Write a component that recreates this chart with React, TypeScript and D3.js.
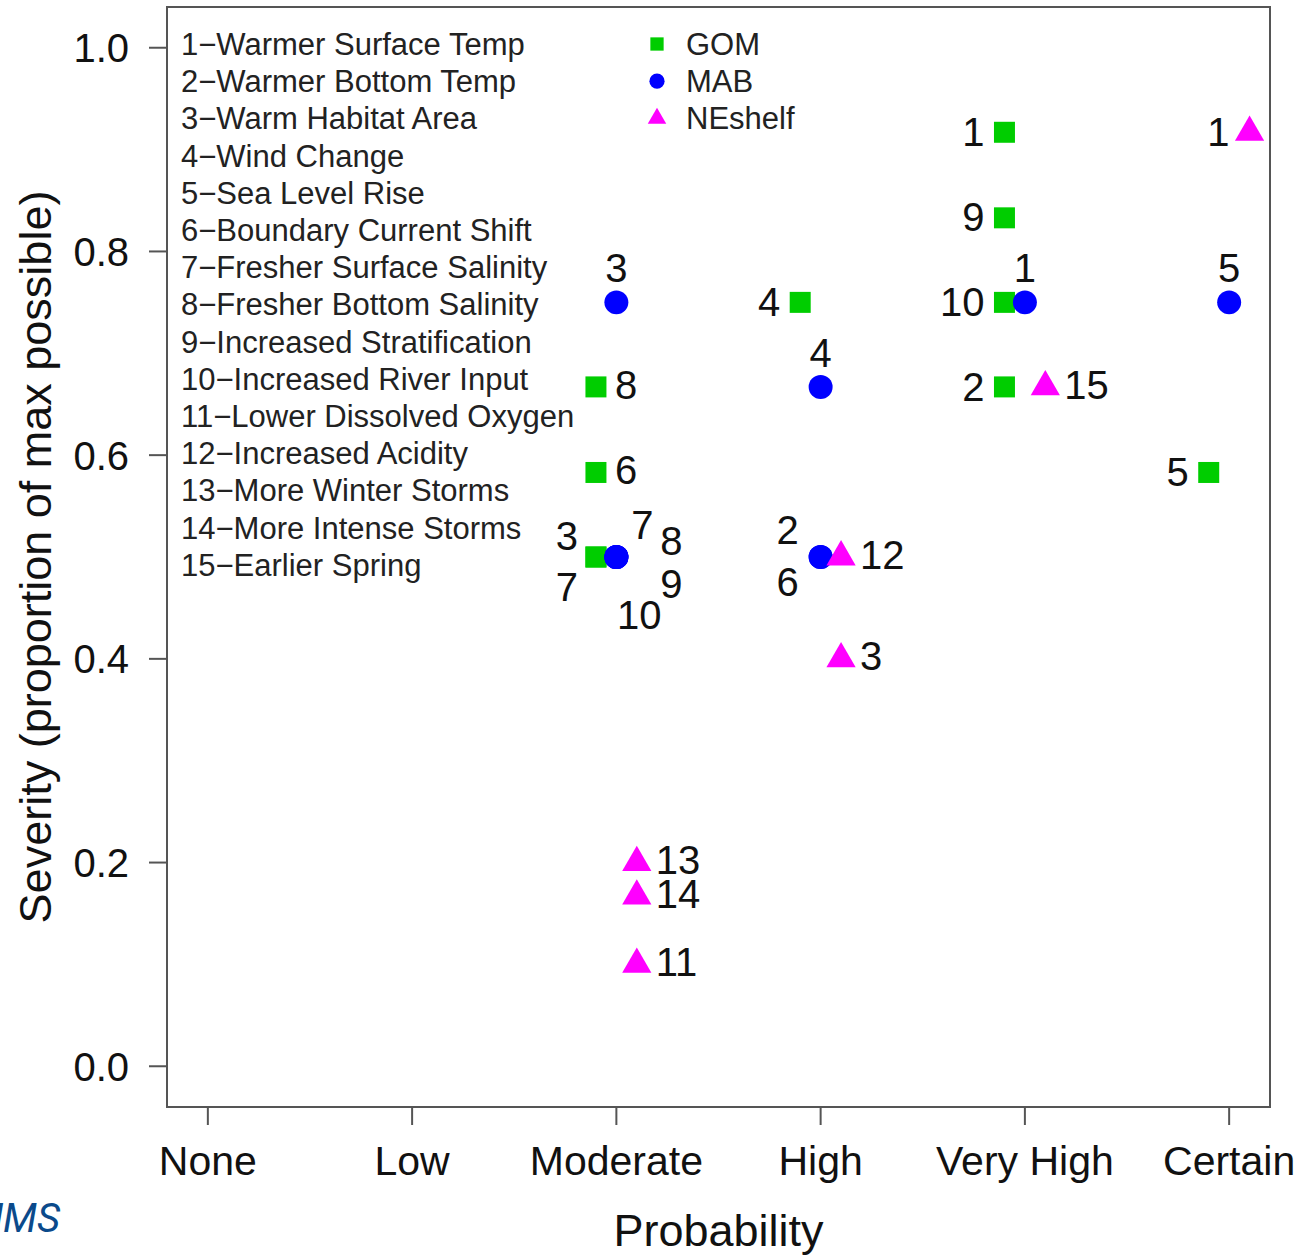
import React from 'react';
import * as d3 from 'd3';

// probability categories on the x axis
const probLevels = ['None', 'Low', 'Moderate', 'High', 'Very High', 'Certain'];
const sevTicks = [0, 0.2, 0.4, 0.6, 0.8, 1.0];

const factorNames = [
  'Warmer Surface Temp', 'Warmer Bottom Temp', 'Warm Habitat Area', 'Wind Change',
  'Sea Level Rise', 'Boundary Current Shift', 'Fresher Surface Salinity',
  'Fresher Bottom Salinity', 'Increased Stratification', 'Increased River Input',
  'Lower Dissolved Oxygen', 'Increased Acidity', 'More Winter Storms',
  'More Intense Storms', 'Earlier Spring',
];

const regionNames = ['GOM', 'MAB', 'NEshelf'];

// GOM
const gomFactor = [1, 9, 10, 2, 4, 8, 6, 3, 7, 5];
const gomProb = ['Very High', 'Very High', 'Very High', 'Very High', 'High', 'Moderate', 'Moderate', 'Moderate', 'Moderate', 'Certain'];
const gomSev = [0.917, 0.833, 0.75, 0.667, 0.75, 0.667, 0.583, 0.5, 0.5, 0.583];
const gomLab = ['l', 'l', 'l', 'l', 'l', 'r', 'r', 'ul', 'dl', 'l'];

// MAB
const mabFactor = [3, 7, 8, 9, 10, 4, 2, 6, 1, 5];
const mabProb = ['Moderate', 'Moderate', 'Moderate', 'Moderate', 'Moderate', 'High', 'High', 'High', 'Very High', 'Certain'];
const mabSev = [0.75, 0.5, 0.5, 0.5, 0.5, 0.667, 0.5, 0.5, 0.75, 0.75];
const mabLab = ['t', 'c7', 'c8', 'c9', 'c10', 't', 'ul2', 'dl2', 't', 't'];

// NEshelf
const neFactor = [1, 15, 12, 3, 13, 14, 11];
const neProb = ['Certain', 'Very High', 'High', 'High', 'Moderate', 'Moderate', 'Moderate'];
const neSev = [0.917, 0.667, 0.5, 0.4, 0.2, 0.167, 0.1];
const neLab = ['l', 'r', 'r', 'r', 'r', 'r', 'r'];

// label offsets (label centre relative to the marker)
const labelOffsets: Record<string, [number, number, string]> = {
  l: [-20, 0, 'end'],
  r: [19, -2, 'start'],
  t: [0, -34, 'middle'],
  ul: [-29, -21, 'middle'],
  dl: [-29, 30, 'middle'],
  c7: [26, -32, 'middle'],
  c8: [55, -16, 'middle'],
  c9: [55, 27, 'middle'],
  c10: [23, 58, 'middle'],
  ul2: [-33, -27, 'middle'],
  dl2: [-33, 25, 'middle'],
};

const W = 1299;
const H = 1257;
const FONT = '"Liberation Sans", Arial, sans-serif';

const colors = ['#00cd00', '#0000ff', '#ff00ff'];
const shifts = [-0.1, 0, 0.1];

const x = d3.scaleLinear().domain([0.8, 6.2]).range([167, 1270]);
const y = d3.scaleLinear().domain([-0.04, 1.04]).range([1107, 7]);

const sym = (i: number, big: boolean) => {
  const s = big ? 1 : 0.4;
  const types = [d3.symbolSquare, d3.symbolCircle, d3.symbolTriangle];
  const sizes = [441, 452, 370];
  return d3.symbol().type(types[i]).size(sizes[i] * s)() as string;
};

const groups = [
  { f: gomFactor, p: gomProb, s: gomSev, l: gomLab },
  { f: mabFactor, p: mabProb, s: mabSev, l: mabLab },
  { f: neFactor, p: neProb, s: neSev, l: neLab },
];

const App = () => {
  const left = x(0.8), right = x(6.2), top = y(1.04), bottom = y(-0.04);
  return (
    <svg width={W} height={H} style={{ position: 'absolute', left: 0, top: 0, background: '#fff' }} fontFamily={FONT}>
      <rect x={left} y={top} width={right - left} height={bottom - top} fill="none" stroke="#555" strokeWidth={2} />

      {/* y axis */}
      {sevTicks.map(t => (
        <g key={'y' + t}>
          <line x1={left - 18} x2={left} y1={y(t)} y2={y(t)} stroke="#555" strokeWidth={2} />
          <text x={129} y={y(t)} dy="0.36em" textAnchor="end" fontSize={40} fill="#111">{t.toFixed(1)}</text>
        </g>
      ))}
      {/* x axis */}
      {probLevels.map((p, i) => (
        <g key={p}>
          <line x1={x(i + 1)} x2={x(i + 1)} y1={bottom} y2={bottom + 18} stroke="#555" strokeWidth={2} />
          <text x={x(i + 1)} y={1175} textAnchor="middle" fontSize={41} fill="#111">{p}</text>
        </g>
      ))}
      <text x={(left + right) / 2} y={1246} textAnchor="middle" fontSize={45} fill="#111">Probability</text>
      <text transform={`translate(51,${(y(0) + y(1)) / 2}) rotate(-90)`} textAnchor="middle" fontSize={45} fill="#111">
        Severity (proportion of max possible)
      </text>

      {/* factor legend */}
      {factorNames.map((n, i) => (
        <text key={n} x={181} y={55 + i * 37.2} fontSize={31} fill="#222">{`${i + 1}\u2212${n}`}</text>
      ))}
      {/* region legend */}
      {regionNames.map((r, i) => (
        <g key={r}>
          <path d={sym(i, false)} transform={`translate(657,${44 + i * 37.2})`} fill={colors[i]} />
          <text x={686} y={55 + i * 37.2} fontSize={31} fill="#222">{r}</text>
        </g>
      ))}

      {/* points */}
      {groups.map((g, gi) => (
        <g key={'g' + gi}>
          {g.f.map((f, j) => {
            const px = x(probLevels.indexOf(g.p[j]) + 1 + shifts[gi]);
            const py = y(g.s[j]);
            return <path key={j} d={sym(gi, true)} transform={`translate(${px},${py})`} fill={colors[gi]} />;
          })}
        </g>
      ))}
      {groups.map((g, gi) => (
        <g key={'l' + gi}>
          {g.f.map((f, j) => {
            const px = x(probLevels.indexOf(g.p[j]) + 1 + shifts[gi]);
            const py = y(g.s[j]);
            const [dx, dy, anchor] = labelOffsets[g.l[j]];
            return (
              <text key={j} x={px + dx} y={py + dy} dy="0.34em" textAnchor={anchor} fontSize={40} fill="#111">{f}</text>
            );
          })}
        </g>
      ))}

      <text x={60} y={1232} textAnchor="end" fontSize={40} fontStyle="italic" fontFamily="Roboto, sans-serif" fill="#0b4a8b">JMS</text>
    </svg>
  );
};

export default App;
